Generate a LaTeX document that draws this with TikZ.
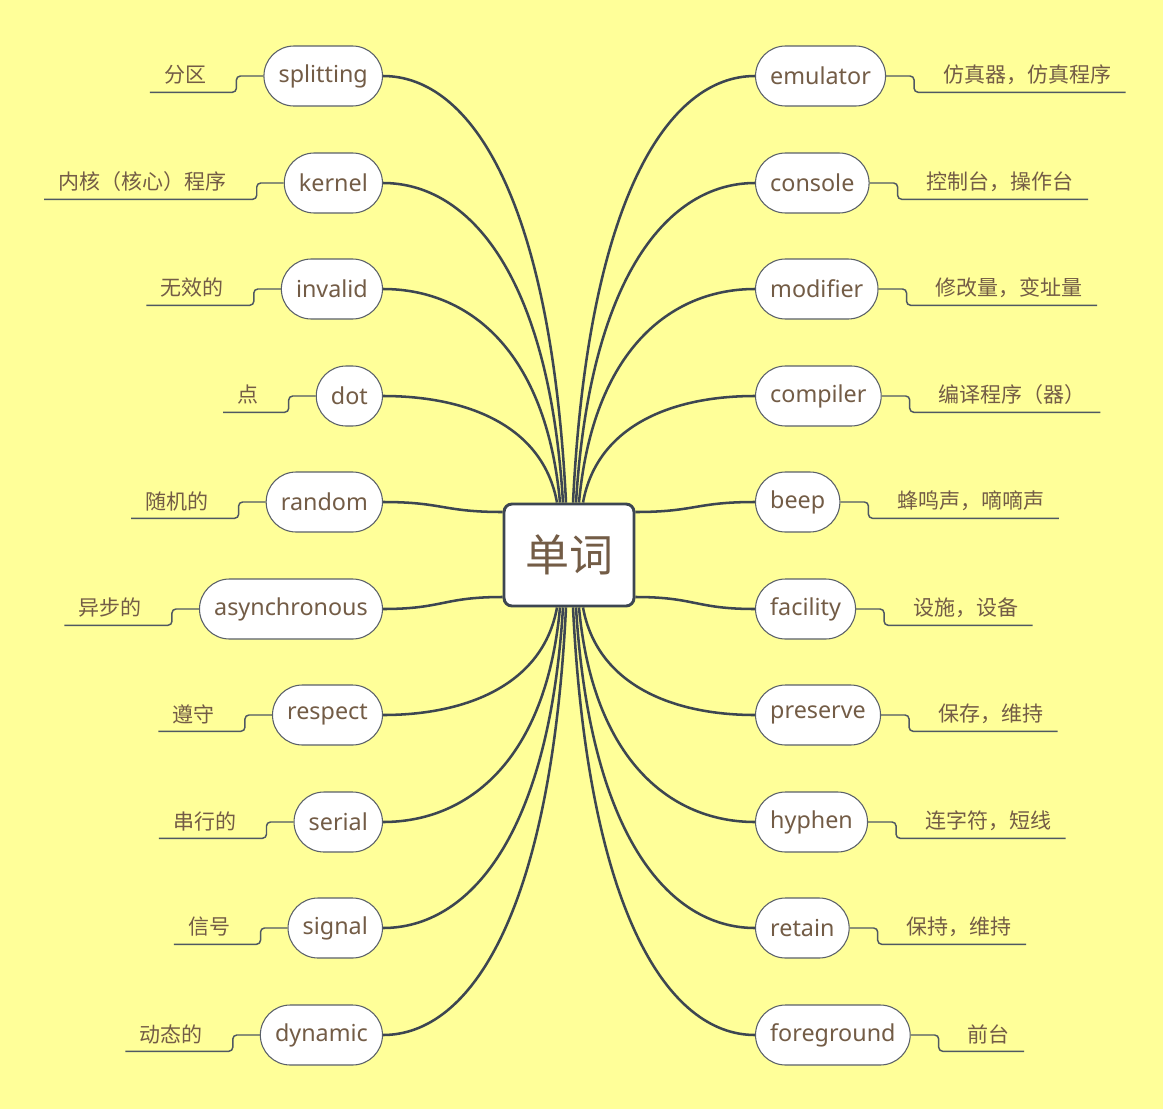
\documentclass[tikz,border=0pt]{standalone}
\usepackage{fontspec}
\setmainfont{Noto Sans}
\newfontfamily\cjk{Noto Sans CJK SC}
\usetikzlibrary{calc}
\definecolor{bg}{HTML}{FFFF99}
\definecolor{ink}{HTML}{735C46}
\definecolor{conn}{HTML}{3D4651}
\definecolor{bord}{HTML}{5A6068}
\definecolor{lline}{HTML}{4F5862}
\begin{document}
\begin{tikzpicture}[x=0.75pt,y=-0.75pt,
  word/.style={draw=bord, line width=0.8pt, fill=white, rounded corners=22.5pt,
    minimum height=45pt, inner xsep=11pt, inner ysep=0pt, text=ink,
    font=\fontsize{17.5}{20}\selectfont},
  lab/.style={inner xsep=10.5pt, inner ysep=0pt, minimum height=25.5pt, text=ink,
    font=\cjk\fontsize{15.75}{18}\selectfont},
  wire/.style={draw=conn, line width=1.9pt},
  tick/.style={draw=lline, line width=1.1pt, rounded corners=3pt},
  centre/.style={draw=conn, line width=2.2pt, fill=white, rounded corners=6pt,
    minimum width=97.5pt, minimum height=76.5pt, text=ink,
    font=\cjk\fontsize{33}{36}\selectfont}]
\useasboundingbox (0,0) rectangle (1171,1117);
\fill[white] (0,0) rectangle (1171,1117);
\fill[bg] (0,0) rectangle (1163,1109);

\node[centre] (ctr) at (569,555) {单词};

% left side
\foreach \n/\y/\t in {splitting/76/分区, kernel/183/内核（核心）程序, invalid/289/无效的,
  dot/396/点, random/502/随机的, asynchronous/609/异步的, respect/715/遵守,
  serial/822/串行的, signal/928/信号, dynamic/1035/动态的} {
  \node[word, anchor=east] (\n) at (383,\y) {\n};
  \path (\n.west) ++(-43,-1) node[lab, anchor=east] (t\n) {\t};
  \draw[tick] (\n.west) -- ++(-27,0) |- (t\n.south west);
}
% right side
\foreach \n/\y/\t in {emulator/76/仿真器，仿真程序, console/183/控制台，操作台,
  modifier/289/修改量，变址量, compiler/396/编译程序（器）, beep/502/蜂鸣声，嘀嘀声,
  facility/609/设施，设备, preserve/715/保存，维持, hyphen/822/连字符，短线,
  retain/928/保持，维持, foreground/1035/前台} {
  \node[word, anchor=west] (\n) at (755,\y) {\n};
  \path (\n.east) ++(43,-1) node[lab, anchor=west] (t\n) {\t};
  \draw[tick] (\n.east) -- ++(28,0) |- (t\n.south east);
}

% connectors, left top
\draw[wire] ($(ctr.north)+(-3,0)$) .. controls +(-15,-304) and +(88,0) .. (splitting.east);
\draw[wire] ($(ctr.north)+(-6,0)$) .. controls +(-14,-228) and +(86,0) .. (kernel.east);
\draw[wire] ($(ctr.north)+(-9,0)$) .. controls +(-14,-153) and +(85,0) .. (invalid.east);
\draw[wire] ($(ctr.north)+(-12,0)$) .. controls +(-14,-77) and +(84,0) .. (dot.east);
% left middle
\draw[wire] ($(ctr.west)+(0,-43)$) .. controls +(-60,0) and +(60,0) .. (random.east);
\draw[wire] ($(ctr.west)+(0,42)$) .. controls +(-60,0) and +(60,0) .. (asynchronous.east);
% left bottom
\draw[wire] ($(ctr.south)+(-12,0)$) .. controls +(-14,77) and +(84,0) .. (respect.east);
\draw[wire] ($(ctr.south)+(-9,0)$) .. controls +(-14,153) and +(85,0) .. (serial.east);
\draw[wire] ($(ctr.south)+(-6,0)$) .. controls +(-14,229) and +(86,0) .. (signal.east);
\draw[wire] ($(ctr.south)+(-3,0)$) .. controls +(-15,305) and +(88,0) .. (dynamic.east);
% right top
\draw[wire] ($(ctr.north)+(4,0)$) .. controls +(15,-304) and +(-87,0) .. (emulator.west);
\draw[wire] ($(ctr.north)+(7,0)$) .. controls +(14,-228) and +(-86,0) .. (console.west);
\draw[wire] ($(ctr.north)+(10,0)$) .. controls +(14,-153) and +(-84,0) .. (modifier.west);
\draw[wire] ($(ctr.north)+(14,0)$) .. controls +(14,-77) and +(-83,0) .. (compiler.west);
% right middle
\draw[wire] ($(ctr.east)+(0,-43)$) .. controls +(60,0) and +(-60,0) .. (beep.west);
\draw[wire] ($(ctr.east)+(0,42)$) .. controls +(60,0) and +(-60,0) .. (facility.west);
% right bottom
\draw[wire] ($(ctr.south)+(14,0)$) .. controls +(14,77) and +(-83,0) .. (preserve.west);
\draw[wire] ($(ctr.south)+(10,0)$) .. controls +(14,153) and +(-84,0) .. (hyphen.west);
\draw[wire] ($(ctr.south)+(7,0)$) .. controls +(14,229) and +(-86,0) .. (retain.west);
\draw[wire] ($(ctr.south)+(4,0)$) .. controls +(15,305) and +(-87,0) .. (foreground.west);
\end{tikzpicture}
\end{document}
